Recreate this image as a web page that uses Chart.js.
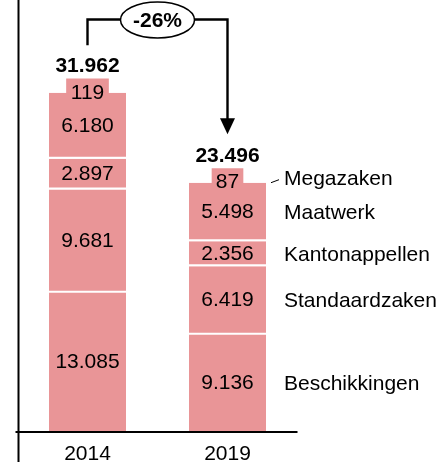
<!DOCTYPE html>
<html>
<head>
<meta charset="utf-8">
<script src="https://cdn.jsdelivr.net/npm/chart.js@4.4.1/dist/chart.umd.min.js"></script>
<style>
  html, body { margin: 0; padding: 0; background: #fff; }
  #wrap { width: 436px; height: 462px; position: relative; }
</style>
</head>
<body>
<div id="wrap"><canvas id="c"></canvas></div>
<script>
// values (stack order: bottom to top)
const years = ['2014', '2019'];
const beschikkingen = [13085, 9136];
const standaardzaken = [9681, 6419];
const kantonappellen = [2897, 2356];
const maatwerk = [6180, 5498];
const megazaken = [119, 87];
const totals = [31962, 23496];
const changeLabel = '-26%';

const FONT = "'Liberation Sans', Arial, Helvetica, sans-serif";
const PINK = '#e99597';
const INK = '#000';
const SIZE = 21;

const fmt = v => String(v).replace(/\B(?=(\d{3})+(?!\d))/g, '.');

const mainSeries = [
  ['Beschikkingen', beschikkingen],
  ['Standaardzaken', standaardzaken],
  ['Kantonappellen', kantonappellen],
  ['Maatwerk', maatwerk]
];

// small "Megazaken" boxes are drawn narrower, one dataset per year so each gets its own width
const megaWidths = [42, 31];

const datasets = mainSeries.map(([label, data], i) => ({
  label,
  data,
  backgroundColor: PINK,
  borderColor: '#fff',
  borderSkipped: false,
  borderWidth: i === 0 ? 0 : { top: 0, left: 0, right: 0, bottom: 2 },
  barPercentage: 0.55,
  categoryPercentage: 1
}));
years.forEach((yr, i) => {
  datasets.push({
    label: 'Megazaken',
    data: years.map((_, j) => (j === i ? megazaken[i] : null)),
    backgroundColor: PINK,
    borderWidth: 0,
    barThickness: megaWidths[i],
    minBarLength: 14
  });
});

const text = (ctx, s, x, y, bold, align) => {
  ctx.font = (bold ? 'bold ' : '') + SIZE + 'px ' + FONT;
  ctx.textAlign = align || 'center';
  ctx.textBaseline = 'middle';
  ctx.fillStyle = INK;
  ctx.fillText(s, x, y);
};

const annotate = {
  id: 'annotate',
  afterDatasetsDraw(chart) {
    const { ctx, chartArea: a, scales: { x, y } } = chart;
    const y0 = y.getPixelForValue(0);
    ctx.save();

    // axes
    ctx.strokeStyle = '#000';
    ctx.lineWidth = 2;
    ctx.beginPath();
    const ax = Math.round(a.left) + 0.5;
    ctx.moveTo(ax, 0);
    ctx.lineTo(ax, chart.height);
    ctx.moveTo(a.left - 2, y0);
    ctx.lineTo(a.right, y0);
    ctx.stroke();

    // values inside segments
    mainSeries.forEach((s, i) => {
      chart.getDatasetMeta(i).data.forEach((el, j) => {
        text(ctx, fmt(s[1][j]), el.x, (el.y + el.base) / 2, false);
      });
    });
    const megaEls = years.map((_, j) => chart.getDatasetMeta(mainSeries.length + j).data[j]);
    megaEls.forEach((el, j) => {
      text(ctx, fmt(megazaken[j]), el.x, el.base, false);
      text(ctx, fmt(totals[j]), el.x, el.y - 12.5, true);
    });

    // change bracket with arrow
    const xl = x.getPixelForValue(0);
    const xr = x.getPixelForValue(1);
    const lineY = 19.5;
    const tipY = megaEls[1].y - 12.5 - 22;
    ctx.lineWidth = 2.4;
    ctx.beginPath();
    ctx.moveTo(xl, megaEls[0].y - 12.5 - 21);
    ctx.lineTo(xl, lineY);
    ctx.lineTo(xr, lineY);
    ctx.lineTo(xr, tipY - 14);
    ctx.stroke();
    ctx.fillStyle = '#000';
    ctx.beginPath();
    ctx.moveTo(xr - 7.5, tipY - 16);
    ctx.lineTo(xr + 7.5, tipY - 16);
    ctx.lineTo(xr, tipY);
    ctx.closePath();
    ctx.fill();

    const cx = (xl + xr) / 2;
    ctx.beginPath();
    ctx.ellipse(cx, 20, 37, 18, 0, 0, Math.PI * 2);
    ctx.fillStyle = '#fff';
    ctx.fill();
    ctx.lineWidth = 1.5;
    ctx.stroke();
    text(ctx, changeLabel, cx, 21.5, true);

    // series names beside the 2019 bar
    const last = years.length - 1;
    mainSeries.forEach((s, i) => {
      const el = chart.getDatasetMeta(i).data[last];
      text(ctx, s[0], el.x + el.width / 2 + 18, (el.y + el.base) / 2 + 1, false, 'left');
    });
    const ref = chart.getDatasetMeta(0).data[last];
    const right = ref.x + ref.width / 2;
    const mEl = megaEls[last];
    text(ctx, 'Megazaken', right + 18, mEl.base - 3, false, 'left');
    ctx.lineWidth = 1;
    ctx.beginPath();
    ctx.moveTo(right + 5, mEl.base);
    ctx.lineTo(right + 13, mEl.base - 3);
    ctx.stroke();

    // category labels
    years.forEach((yr, j) => {
      text(ctx, yr, x.getPixelForValue(j), y0 + 22, false);
    });

    ctx.restore();
  }
};

new Chart(document.getElementById('c'), {
  type: 'bar',
  data: { labels: years, datasets },
  options: {
    responsive: true,
    maintainAspectRatio: false,
    animation: false,
    layout: { padding: { top: 6, bottom: 30, left: 17.5, right: 138.5 } },
    plugins: { legend: { display: false }, tooltip: { enabled: false } },
    scales: {
      x: { stacked: true, display: false },
      y: { stacked: true, display: false, min: 0, max: 40000 }
    }
  },
  plugins: [annotate]
});
</script>
</body>
</html>
